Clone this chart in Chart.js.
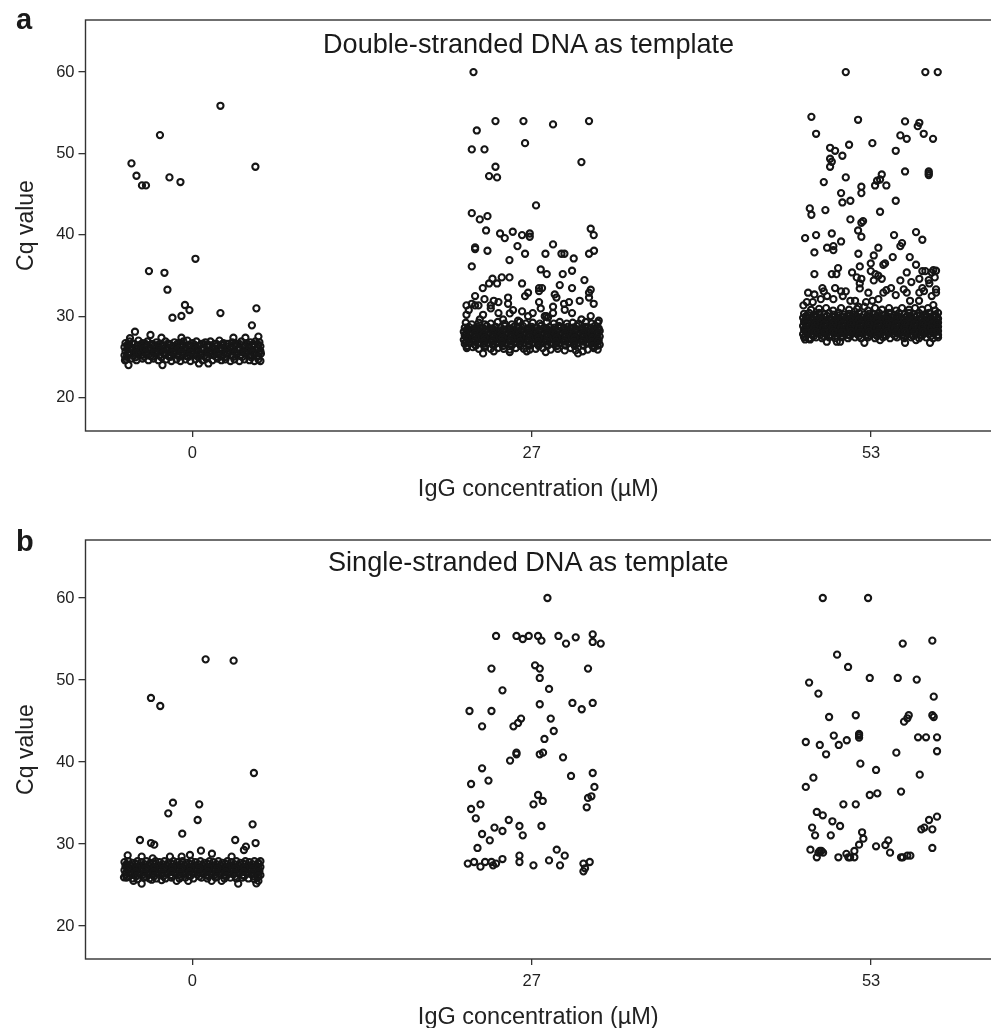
<!DOCTYPE html>
<html lang="en">
<head>
  <meta charset="UTF-8" />
  <title>Cq value by IgG concentration</title>
  <script src="https://cdn.jsdelivr.net/npm/chart.js"></script>
  <style>
    html, body { margin: 0; padding: 0; background: #fff; }
    body { position: relative; width: 991px; height: 1028px; overflow: hidden; font-family: "Liberation Sans", Arial, sans-serif; color: #1a1a1a; }
    .panel { position: absolute; left: 0; width: 991px; }
    .letter { position: absolute; left: 16px; font-size: 29px; font-weight: bold; line-height: 1; }
    .heading { position: absolute; font-size: 27.1px; line-height: 1; white-space: nowrap; }
  </style>
</head>
<body>
  <div class="panel" style="top:0;height:508px"><canvas id="chartA"></canvas></div>
  <div class="panel" style="top:510px;height:526px"><canvas id="chartB"></canvas></div>
  <div class="letter" style="top:5px">a</div>
  <div class="letter" style="top:527px">b</div>
  <div class="heading" style="left:323px;top:30px">Double-stranded DNA as template</div>
  <div class="heading" style="left:328px;top:548px">Single-stranded DNA as template</div>

  <script>
    const groupCentres = [0, 339.5, 679];
    const groupLabels = ['0', '27', '53'];
    const yTicks = [20, 30, 40, 50, 60];

    // [jitter, Cq], panel a
    const a0Points = [
      [28,55.86],[-32.5,52.26],[-61,48.78],[63,48.37],[-56,47.26],[-23,47.06],[-12,46.49],[-50.5,46.08],[-46.5,46.08],
      [3,37.06],[-43.5,35.55],[-28,35.34],[-25,33.26],[-7.5,31.38],[-3,30.76],[64,30.97],[28,30.39],[-11,30.03],[-20,29.82],
      [59.5,28.88],[-57.5,28.1],[-42,27.7],[-31,27.36],[41,27.36],[53,27.36],[66,27.5],[-62.5,27.3],[-11,27.36],
      [-64,24],[-30,24],[-67.5,24.6],[6.5,24.2],[16,24.2]
    ];
    const a0Band = [
      [-67,26.7],[-63,26.9],[-58,26.6],[-54,27],[-50,26.7],[-45,26.9],[-41,26.6],[-36,26.8],[-32,26.6],[-27,26.9],[-23,26.6],[-18,26.8],[-14,26.7],[-9,26.9],[-5,27],[0,26.7],[4,26.9],[9,26.6],[13,26.8],[18,26.9],[22,26.6],[27,27],[31,26.7],[36,26.6],[40,26.8],[45,26.6],[49,26.9],[54,26.7],[58,26.8],[63,26.9],[67,26.8],
      [-68,26.2],[-64,26.4],[-60,26.1],[-55,26.4],[-51,26.2],[-47,26.4],[-43,26.1],[-38,26.3],[-34,26.2],[-29,26.4],[-25,26.1],[-20,26.3],[-16,26.2],[-11,26.4],[-7,26.1],[-2,26.3],[2,26.2],[7,26.4],[11,26.1],[16,26.3],[20,26.2],[25,26.4],[29,26.1],[34,26.3],[38,26.2],[43,26.4],[47,26.1],[52,26.3],[56,26.2],[61,26.4],[65,26.1],[68,26.3],
      [-67,25.7],[-62,25.9],[-58,25.6],[-53,25.8],[-49,25.7],[-45,25.9],[-40,25.6],[-36,25.8],[-31,25.7],[-27,25.9],[-22,25.6],[-18,25.8],[-13,25.7],[-9,25.9],[-4,25.6],[0,25.8],[5,25.7],[9,25.9],[14,25.6],[18,25.8],[23,25.7],[27,25.9],[32,25.6],[36,25.8],[41,25.7],[45,25.9],[50,25.6],[54,25.8],[59,25.7],[63,25.9],[68,25.7],
      [-68,25.2],[-64,25.3],[-59,25.1],[-55,25.4],[-51,25.2],[-46,25.3],[-42,25.1],[-37,25.4],[-33,25.2],[-28,25.3],[-24,25.1],[-19,25.4],[-15,25.2],[-10,25.3],[-6,25.1],[-1,25.4],[3,25.2],[8,25.3],[12,25.1],[17,25.4],[21,25.2],[26,25.3],[30,25.1],[35,25.4],[39,25.2],[44,25.3],[48,25.1],[53,25.4],[57,25.2],[62,25.3],[66,25.1],[68.5,25.4],
      [-66,24.7],[-61,24.8],[-56,24.6],[-50,24.8],[-44,24.6],[-39,24.8],[-34,24.6],[-26,24.7],[-21,24.5],[-16,24.7],[-12,24.5],[-7,24.7],[-2,24.5],[3,24.7],[10,24.6],[14,24.8],[20,24.6],[25,24.8],[29,24.6],[33,24.7],[38,24.5],[42,24.7],[47,24.5],[52,24.7],[57,24.6],[62,24.5],[66,24.7],[68,24.5]
    ];
    const a0Fill = [
      [-65,26.5],[-60,26.6],[-52,26.5],[-47,26.6],[-39,26.5],[-34,26.5],[-25,26.6],[-16,26.5],[-11,26.6],[-3,26.5],[2,26.5],[11,26.6],[16,26.5],[24,26.6],[29,26.5],[34,26.6],[42,26.5],[47,26.6],[56,26.5],[61,26.6],[66,26.5],
      [-65,26],[-57,26],[-49,26],[-41,25.95],[-33,26.05],[-23,26],[-14,26],[-5,25.95],[4,26],[12,26.05],[21,26],[30,26],[39,26],[48,26.05],[57,26],[66,26],
      [-64,25.55],[-56,25.5],[-47,25.5],[-38,25.55],[-29,25.5],[-20,25.5],[-11,25.55],[-2,25.5],[7,25.5],[16,25.55],[25,25.5],[34,25.5],[43,25.55],[52,25.5],[61,25.5],[66,25.5],
      [-66,25],[-57,24.95],[-48,25],[-40,25.05],[-31,24.95],[-22,25],[-13,25.05],[-4,25],[6,24.95],[15,25],[24,25],[32,24.95],[41,25.05],[50,25],[59,24.95],[65,25]
    ];
    const a27Points = [
      [-58.3,60],[-36.3,53.98],[-8.3,53.98],[21.3,53.57],[57.3,53.98],[-55,52.83],[-6.7,51.27],[-60,50.5],[-47.3,50.5],[49.7,48.94],[-36.3,48.37],[-42.7,47.22],[-34.7,47.06],
      [4.3,43.62],[-60,42.67],[-52,41.9],[-44.3,42.3],[-45.7,40.54],[-31.7,40.17],[-19,40.38],[-27,39.6],[-9.7,39.97],[-2,40.17],[-2,39.77],[59,40.75],[62,39.97],
      [-14.3,38.62],[21.3,38.83],[-56.7,38.46],[-56.7,38.25],[-44.3,38.05],[-6.7,37.68],[13.7,37.68],[29.7,37.68],[32.7,37.68],[57.3,37.68],[62.3,38.05],[42,37.1],[-22.3,36.9],[-60,36.12],
      [9,35.75],[15,35.18],[31,35.18],[40.3,35.59],[-39.3,34.61],[-30,34.77],[-22.3,34.77],[-42.7,34.03],[-34.7,34.03],[-9.7,34.03],[52.7,34.44],[-49,33.46],[28,33.83],[40.3,33.46],
      [7.3,33.46],[10.3,33.46],[7.3,33.09],[-3.7,32.89],[-6.7,32.48],[59,33.26],[57.3,32.89],[57.3,32.3],[23,32.68],[24.7,32.3],[-56.7,32.48],[-47.3,32.1],[-38,31.9],[-33.3,31.74],[-23.7,32.3],[-23.7,31.53],
      [7.3,31.74],[37.3,31.74],[48,31.9],[62,31.53],[32.3,31.53],[-65.3,31.33],[-60,31.53],[-56.7,31.33],[-53.3,31.33],[-41,31.33],[-41,30.96],[21.3,31.17],[33,30.8],[9,30.96],[-63,30.76],
      [-65.3,30.18],[-33.3,30.39],[-18.7,30.76],[-22,30.35],[-9.7,30.6],[1,30.39],[21.3,30.39],[40.3,30.39],[-48.7,30.18],[59,30.02],[14.7,30],[13,30],[16.3,29.85],[-52,29.6],[-28.7,29.6],[-13.7,29.45],[-3.7,30],[49.7,29.6],[67,29.45],
      [-48.7,25.43],[46.3,25.43]
    ];
    const a27Band = [
      [-66,29.2],[-60,29],[-53,29.2],[-47,29],[-41,29.1],[-34,29.3],[-27,29.1],[-20,29],[-12,29.3],[-6,29.1],[1,29.2],[8,29.1],[15,29.3],[22,29.1],[28,29.3],[35,29.1],[41,29.2],[47,29.1],[54,29.3],[60,29.1],[66,29.2],
      [-67,28.6],[-63,28.7],[-58,28.5],[-54,28.7],[-49,28.6],[-45,28.8],[-40,28.5],[-36,28.7],[-31,28.6],[-27,28.8],[-22,28.5],[-18,28.7],[-13,28.6],[-9,28.8],[-4,28.5],[0,28.7],[5,28.6],[9,28.8],[14,28.5],[18,28.7],[23,28.6],[27,28.8],[32,28.5],[36,28.7],[41,28.6],[45,28.8],[50,28.5],[54,28.7],[59,28.6],[63,28.8],[67,28.5],
      [-68,28.1],[-64,28.2],[-60,28],[-55,28.2],[-51,28.1],[-46,28.2],[-42,28],[-37,28.2],[-33,28.1],[-28,28.2],[-24,28],[-19,28.2],[-15,28.1],[-10,28.2],[-6,28],[-1,28.2],[3,28.1],[8,28.2],[12,28],[17,28.2],[21,28.1],[26,28.2],[30,28],[35,28.2],[39,28.1],[44,28.2],[48,28],[53,28.2],[57,28.1],[62,28.2],[66,28],[68,28.2],
      [-67,27.6],[-62,27.7],[-58,27.5],[-53,27.7],[-49,27.6],[-44,27.7],[-40,27.5],[-35,27.7],[-31,27.6],[-26,27.7],[-22,27.5],[-17,27.7],[-13,27.6],[-8,27.7],[-4,27.5],[1,27.7],[5,27.6],[10,27.7],[14,27.5],[19,27.7],[23,27.6],[28,27.7],[32,27.5],[37,27.7],[41,27.6],[46,27.7],[50,27.5],[55,27.7],[59,27.6],[64,27.7],[68,27.5],
      [-68,27.1],[-63,27.2],[-59,27],[-54,27.2],[-50,27.1],[-45,27.2],[-41,27],[-36,27.2],[-32,27.1],[-27,27.2],[-23,27],[-18,27.2],[-14,27.1],[-9,27.2],[-5,27],[0,27.2],[4,27.1],[9,27.2],[13,27],[18,27.2],[22,27.1],[27,27.2],[31,27],[36,27.2],[40,27.1],[45,27.2],[49,27],[54,27.2],[58,27.1],[63,27.2],[67,27],
      [-67,26.6],[-62,26.7],[-57,26.5],[-53,26.7],[-48,26.6],[-44,26.7],[-39,26.5],[-35,26.7],[-30,26.6],[-26,26.7],[-21,26.5],[-17,26.7],[-12,26.6],[-8,26.7],[-3,26.5],[1,26.7],[6,26.6],[10,26.7],[15,26.5],[19,26.7],[24,26.6],[28,26.7],[33,26.5],[37,26.7],[42,26.6],[46,26.7],[51,26.5],[55,26.7],[60,26.6],[64,26.7],[68,26.5],
      [-65,26.1],[-59,26.2],[-53,26],[-47,26.2],[-41,26],[-34,26.1],[-28,26],[-22,25.9],[-16,26.1],[-8,26],[-2,25.9],[4,26],[11,26.1],[19,25.9],[26,26],[33,25.8],[39,26.1],[44,25.8],[51,25.7],[56,25.9],[62,26.1],[66,25.9],[-38,25.7],[-22,25.6],[-5,25.7],[14,25.6]
    ];
    const a27Fill = [
      [-65,28.35],[-56,28.4],[-47,28.35],[-38,28.4],[-29,28.35],[-20,28.4],[-11,28.35],[-2,28.4],[7,28.35],[16,28.4],[25,28.35],[34,28.4],[43,28.35],[52,28.4],[61,28.35],[66,28.4],
      [-66,27.85],[-57,27.9],[-48,27.85],[-39,27.9],[-30,27.85],[-21,27.9],[-12,27.85],[-3,27.9],[6,27.85],[15,27.9],[24,27.85],[33,27.9],[42,27.85],[51,27.9],[60,27.85],[66,27.9],
      [-65,27.35],[-56,27.4],[-47,27.35],[-38,27.4],[-29,27.35],[-20,27.4],[-11,27.35],[-2,27.4],[7,27.35],[16,27.4],[25,27.35],[34,27.4],[43,27.35],[52,27.4],[61,27.35],[66,27.4],
      [-66,26.85],[-57,26.9],[-48,26.85],[-39,26.9],[-30,26.85],[-21,26.9],[-12,26.85],[-3,26.9],[6,26.85],[15,26.9],[24,26.85],[33,26.9],[42,26.85],[51,26.9],[60,26.85],[66,26.9],
      [-65,26.35],[-56,26.4],[-47,26.35],[-38,26.4],[-29,26.35],[-20,26.4],[-11,26.35],[-2,26.4],[7,26.35],[16,26.4],[25,26.35],[34,26.4],[43,26.35],[52,26.4],[61,26.35],[66,26.4]
    ];
    const a53Points = [
      [-25.3,60],[54.3,60],[66.7,60],[-59.7,54.5],[-13,54.14],[34,53.94],[48.3,53.77],[46.7,53.36],[-55,52.42],[29.3,52.22],[35.7,51.8],[52.7,52.42],[62,51.8],[-22,51.07],[1.3,51.27],[-41,50.7],[-36,50.33],[24.7,50.33],[-28.7,49.72],
      [-41,49.35],[-39.3,48.98],[-41,48.37],[34,47.79],[57.7,47.79],[57.7,47.55],[57.7,47.34],[10.7,47.42],[-25.3,47.06],[6,46.65],[9,46.8],[-47.3,46.48],[4,46.07],[15.3,46.07],[-9.7,45.91],[-9.7,45.13],[-30,45.13],[-20.7,44.19],[-28.7,43.98],[24.7,44.19],
      [-61.3,43.25],[-59.7,42.47],[-45.7,43.04],[9,42.84],[-20.7,41.9],[-8,41.69],[-9.7,41.49],[-13,40.54],[-9.7,39.77],[-66,39.6],[-55,39.97],[-39.3,40.17],[23,39.97],[45,40.34],[51.3,39.4],[-30,39.19],[31,38.99],[29.3,38.62],[-44,38.42],[-37.7,38.62],[-37.7,38.13],[7.3,38.42],
      [-56.7,37.84],[-12.7,37.68],[2.7,37.47],[21.7,37.27],[38.7,37.27],[-0.3,36.49],[14,36.49],[12.3,36.33],[45,36.33],[-11.3,36.12],[-33,35.92],[-0.3,35.55],[51.3,35.55],[54.3,35.55],[62.3,35.67],[65,35.59],[60.7,35.38],
      [-56.7,35.18],[-39.3,35.18],[-34.7,35.18],[-19,35.38],[35.7,35.38],[4.3,35.18],[7.3,34.98],[10.7,34.6],[-9.7,34.6],[-14.3,34.77],[63.7,34.77],[48.3,34.6],[2.7,34.4],[29.3,34.4],[40.3,34.2],[-11.3,34.03],[-11.3,33.42],[57.7,34.44],[58.3,34.03],
      [-48.7,33.46],[-47.3,33.05],[-36,33.46],[20,33.46],[51.3,33.46],[53,33.09],[65,33.3],[65,32.9],[-63,32.89],[-56.7,32.68],[-30,33.05],[-25.3,33.05],[-28.3,32.48],[-2.7,32.89],[12.3,32.9],[15.3,33.2],[32.7,33.3],[35.7,32.9],[24.7,32.6],[48.3,32.9],[60.7,32.48],[-44,32.48],
      [-50.3,32.1],[-37.7,32.1],[-58.3,31.74],[-64.3,31.74],[-67.7,31.33],[-20.7,31.9],[-16,31.9],[-5,31.74],[7.3,32.1],[1.3,31.9],[39,31.9],[48,31.9],[62.3,31.37],[-12.7,31.17],[-6.7,31.17],
      [-44.3,26.87],[-34.3,26.87],[-31,26.87],[-6.7,26.74],[34,26.74],[59,26.74],[9,27.07],[45,27.07],[-66,27.15],[-61,27.15]
    ];
    const a53Band = [
      [-60,30.8],[-52,30.9],[-45,31],[-38,30.7],[-30,31],[-22,30.8],[-14,30.9],[-3,30.7],[4,31],[11,30.8],[18,31],[25,30.7],[31,31],[38,30.8],[44,31],[51,30.8],[57,31],[64,30.7],
      [-67,30.3],[-62,30.4],[-57,30.2],[-52,30.4],[-47,30.2],[-42,30.4],[-37,30.2],[-32,30.4],[-27,30.2],[-22,30.3],[-17,30.2],[-12,30.4],[-7,30.2],[-2,30.3],[3,30.2],[8,30.4],[13,30.2],[18,30.4],[23,30.2],[28,30.4],[33,30.2],[38,30.4],[43,30.2],[48,30.4],[53,30.2],[58,30.4],[63,30.2],[67,30.4],
      [-68,29.8],[-64,29.9],[-59,29.7],[-55,29.9],[-50,29.8],[-46,29.9],[-41,29.7],[-37,29.9],[-32,29.8],[-28,29.9],[-23,29.7],[-19,29.9],[-14,29.8],[-10,29.9],[-5,29.7],[-1,29.9],[4,29.8],[8,29.9],[13,29.7],[17,29.9],[22,29.8],[26,29.9],[31,29.7],[35,29.9],[40,29.8],[44,29.9],[49,29.7],[53,29.9],[58,29.8],[62,29.9],[67,29.7],
      [-67,29.3],[-62,29.4],[-58,29.2],[-53,29.4],[-49,29.3],[-44,29.4],[-40,29.2],[-35,29.4],[-31,29.3],[-26,29.4],[-22,29.2],[-17,29.4],[-13,29.3],[-8,29.4],[-4,29.2],[1,29.4],[5,29.3],[10,29.4],[14,29.2],[19,29.4],[23,29.3],[28,29.4],[32,29.2],[37,29.4],[41,29.3],[46,29.4],[50,29.2],[55,29.4],[59,29.3],[64,29.4],[67,29.2],
      [-68,28.8],[-64,28.9],[-59,28.7],[-55,28.9],[-50,28.8],[-46,28.9],[-41,28.7],[-37,28.9],[-32,28.8],[-28,28.9],[-23,28.7],[-19,28.9],[-14,28.8],[-10,28.9],[-5,28.7],[-1,28.9],[4,28.8],[8,28.9],[13,28.7],[17,28.9],[22,28.8],[26,28.9],[31,28.7],[35,28.9],[40,28.8],[44,28.9],[49,28.7],[53,28.9],[58,28.8],[62,28.9],[67,28.7],
      [-67,28.3],[-62,28.4],[-58,28.2],[-53,28.4],[-49,28.3],[-44,28.4],[-40,28.2],[-35,28.4],[-31,28.3],[-26,28.4],[-22,28.2],[-17,28.4],[-13,28.3],[-8,28.4],[-4,28.2],[1,28.4],[5,28.3],[10,28.4],[14,28.2],[19,28.4],[23,28.3],[28,28.4],[32,28.2],[37,28.4],[41,28.3],[46,28.4],[50,28.2],[55,28.4],[59,28.3],[64,28.4],[67,28.2],
      [-68,27.8],[-64,27.9],[-59,27.7],[-55,27.9],[-50,27.8],[-46,27.9],[-41,27.7],[-37,27.9],[-32,27.8],[-28,27.9],[-23,27.7],[-19,27.9],[-14,27.8],[-10,27.9],[-5,27.7],[-1,27.9],[4,27.8],[8,27.9],[13,27.7],[17,27.9],[22,27.8],[26,27.9],[31,27.7],[35,27.9],[40,27.8],[44,27.9],[49,27.7],[53,27.9],[58,27.8],[62,27.9],[67,27.7],
      [-67,27.4],[-62,27.3],[-55,27.4],[-49,27.3],[-42,27.4],[-36,27.3],[-29,27.4],[-23,27.3],[-16,27.4],[-10,27.3],[-3,27.4],[4,27.3],[12,27.4],[19,27.3],[26,27.4],[33,27.3],[40,27.4],[48,27.3],[55,27.4],[62,27.3],[67,27.4]
    ];
    const a53Fill = [
      [-65,30.05],[-55,30.1],[-44,30.05],[-33,30.1],[-24,30.05],[-15,30.1],[-4,30.05],[6,30.1],[16,30.05],[26,30.1],[36,30.05],[46,30.1],[56,30.05],[65,30.1],
      [-66,29.55],[-57,29.6],[-48,29.55],[-39,29.6],[-30,29.55],[-21,29.6],[-12,29.55],[-3,29.6],[6,29.55],[15,29.6],[24,29.55],[33,29.6],[42,29.55],[51,29.6],[60,29.55],[66,29.6],
      [-65,29.05],[-56,29.1],[-47,29.05],[-38,29.1],[-29,29.05],[-20,29.1],[-11,29.05],[-2,29.1],[7,29.05],[16,29.1],[25,29.05],[34,29.1],[43,29.05],[52,29.1],[61,29.05],[66,29.1],
      [-66,28.55],[-57,28.6],[-48,28.55],[-39,28.6],[-30,28.55],[-21,28.6],[-12,28.55],[-3,28.6],[6,28.55],[15,28.6],[24,28.55],[33,28.6],[42,28.55],[51,28.6],[60,28.55],[66,28.6],
      [-65,28.05],[-56,28.1],[-47,28.05],[-38,28.1],[-29,28.05],[-20,28.1],[-11,28.05],[-2,28.1],[7,28.05],[16,28.1],[25,28.05],[34,28.1],[43,28.05],[52,28.1],[61,28.05],[66,28.1],
      [-66,27.55],[-57,27.6],[-48,27.55],[-39,27.6],[-30,27.55],[-21,27.6],[-12,27.55],[-3,27.6],[6,27.55],[15,27.6],[24,27.55],[33,27.6],[42,27.55],[51,27.6],[60,27.55],[66,27.6]
    ];

    // panel b
    const b0Points = [
      [13.2,52.52],[41.2,52.36],[-41.5,47.81],[-32.2,46.83],[61.5,38.66],[-19.5,35.04],[6.8,34.84],[-24.2,33.74],[5.2,32.93],[60.2,32.4],[-10.2,31.26],[-52.5,30.49],[42.8,30.49],[-41.5,30.12],[-38.2,29.92],[63.2,30.12],[53.5,29.68],[51.5,29.27],[8.5,29.19],[19.5,28.82],
      [-64.8,28.62],[-50.8,28.46],[-22.5,28.46],[-2.5,28.66],[39.2,28.46],[-10.8,28.46],[-39.8,28.25],[-50.8,25.17],[45.8,25.17],[64,25.2],[-68.5,25.94],[-59,25.5],[-30.8,25.6],[-15.8,25.5],[-4.2,25.5],[19.2,25.5],[29.2,25.5],[-40.8,25.65]
    ];
    const b0Band = [
      [-68,27.8],[-64,27.9],[-60,27.7],[-55,27.9],[-51,27.8],[-46,27.9],[-42,27.7],[-37,27.9],[-33,27.8],[-28,27.9],[-24,27.7],[-19,27.9],[-15,27.8],[-10,27.9],[-6,27.7],[-1,27.9],[3,27.8],[8,27.9],[12,27.7],[17,27.9],[21,27.8],[26,27.9],[30,27.7],[35,27.9],[39,27.8],[44,27.9],[48,27.7],[53,27.9],[57,27.8],[62,27.9],[66,27.7],[68,27.9],
      [-67,27.3],[-62,27.4],[-58,27.2],[-53,27.4],[-49,27.3],[-44,27.4],[-40,27.2],[-35,27.4],[-31,27.3],[-26,27.4],[-22,27.2],[-17,27.4],[-13,27.3],[-8,27.4],[-4,27.2],[1,27.4],[5,27.3],[10,27.4],[14,27.2],[19,27.4],[23,27.3],[28,27.4],[32,27.2],[37,27.4],[41,27.3],[46,27.4],[50,27.2],[55,27.4],[59,27.3],[64,27.4],[68,27.2],
      [-68,26.8],[-64,26.9],[-59,26.7],[-55,26.9],[-50,26.8],[-46,26.9],[-41,26.7],[-37,26.9],[-32,26.8],[-28,26.9],[-23,26.7],[-19,26.9],[-14,26.8],[-10,26.9],[-5,26.7],[-1,26.9],[4,26.8],[8,26.9],[13,26.7],[17,26.9],[22,26.8],[26,26.9],[31,26.7],[35,26.9],[40,26.8],[44,26.9],[49,26.7],[53,26.9],[58,26.8],[62,26.9],[67,26.7],
      [-67,26.3],[-62,26.4],[-58,26.2],[-53,26.4],[-49,26.3],[-44,26.4],[-40,26.2],[-35,26.4],[-31,26.3],[-26,26.4],[-22,26.2],[-17,26.4],[-13,26.3],[-8,26.4],[-4,26.2],[1,26.4],[5,26.3],[10,26.4],[14,26.2],[19,26.4],[23,26.3],[28,26.4],[32,26.2],[37,26.4],[41,26.3],[46,26.4],[50,26.2],[55,26.4],[59,26.3],[64,26.4],[68,26.2],
      [-66,25.9],[-60,25.8],[-55,25.7],[-48,25.9],[-43,25.8],[-36,25.8],[-27,25.8],[-21,25.9],[-13,25.8],[-7,25.9],[1,25.8],[9,25.9],[15,25.8],[23,25.9],[32,25.8],[38,25.9],[44,25.8],[50,25.9],[56,25.8],[62,25.7],[66,25.5],[65,25.9]
    ];
    const b0Fill = [
      [-66,27.55],[-57,27.6],[-48,27.55],[-39,27.6],[-30,27.55],[-21,27.6],[-12,27.55],[-3,27.6],[6,27.55],[15,27.6],[24,27.55],[33,27.6],[42,27.55],[51,27.6],[60,27.55],[66,27.6],
      [-65,27.05],[-56,27.1],[-47,27.05],[-38,27.1],[-29,27.05],[-20,27.1],[-11,27.05],[-2,27.1],[7,27.05],[16,27.1],[25,27.05],[34,27.1],[43,27.05],[52,27.1],[61,27.05],[66,27.1],
      [-66,26.55],[-57,26.6],[-48,26.55],[-39,26.6],[-30,26.55],[-21,26.6],[-12,26.55],[-3,26.6],[6,26.55],[15,26.6],[24,26.55],[33,26.6],[42,26.55],[51,26.6],[60,26.55],[66,26.6],
      [-65,26.05],[-56,26.1],[-47,26.05],[-38,26.1],[-29,26.05],[-20,26.1],[-11,26.05],[-2,26.1],[7,26.05],[16,26.1],[25,26.05],[34,26.1],[43,26.05],[52,26.1],[61,26.05],[66,26.1]
    ];
    const b27Points = [
      [15.7,60],[-35.7,55.37],[-15.3,55.37],[-9,55],[-3,55.37],[6.3,55.37],[9.7,54.8],[26.7,55.37],[34.3,54.44],[44,55.2],[61,55.57],[61,54.64],[69,54.44],[-40.3,51.39],[3.3,51.79],[8,51.39],[56.3,51.39],[8,50.25],[-29.3,48.74],[17.3,48.91],
      [8,47.04],[40.7,47.2],[61,47.2],[50,46.43],[-62.3,46.22],[-40.3,46.22],[-10.7,45.29],[-13.7,44.76],[-18.3,44.35],[19,45.29],[-49.7,44.35],[22,43.78],[12.7,42.81],[-15.3,41.14],[-15.3,40.94],[8,40.94],[11.3,41.14],[-21.7,40.17],[31.3,40.57],
      [-49.7,39.23],[39.3,38.3],[61,38.66],[-43.3,37.73],[-60.7,37.32],[62.7,36.96],[6.3,35.98],[59.7,35.82],[56.3,35.62],[11,35.25],[1.7,34.84],[55,34.48],[-51.3,34.84],[-60.7,34.27],[-56,33.13],[-23,32.93],[-12.3,32.2],[9.7,32.2],[-37.3,32],[-29.3,31.59],[-49.7,31.22],[-9,31.06],[-42,30.45],
      [-54.3,29.52],[25,29.31],[33,28.58],[-12.3,28.58],[-12.3,27.81],[-29.3,28.17],[-64,27.61],[-57.7,27.81],[-51.3,27.24],[-46.7,27.81],[-40.3,27.81],[-38.7,27.4],[-35.7,27.61],[1.7,27.4],[17.3,28],[28.3,27.4],[51.7,27.61],[58,27.81],[53.3,27.04],[51.7,26.67]
    ];
    const b53Points = [
      [-48.3,60],[-3,60],[61.3,54.8],[31.7,54.44],[-34,53.09],[-23,51.59],[-1.3,50.25],[26.7,50.25],[45.7,50.05],[-62,49.68],[-52.7,48.34],[62.7,47.97],[-42,45.49],[-15.3,45.7],[37.7,45.7],[36.3,45.33],[33,44.92],[61.3,45.7],[62.7,45.49],
      [-12,43.42],[-12,43.22],[-12,42.97],[-37.3,43.22],[47,43.01],[55,43.01],[66,43.01],[-65.3,42.44],[-24.3,42.65],[-51.3,42.08],[-32.3,42.08],[-45,40.94],[25.3,41.14],[66,41.31],[-10.7,39.8],[5,39.03],[48.7,38.46],[-57.7,38.09],[-65.3,36.96],[30,36.39],[-1.3,35.98],[6.3,36.18],
      [-27.7,34.84],[-15.3,34.84],[-54.3,33.91],[-48.3,33.5],[66,33.34],[58,32.93],[-38.7,32.77],[-31,32.2],[-59,32],[50.3,31.79],[53.3,32],[61.3,31.79],[-9,31.43],[-56,31.06],[-40.3,31.06],[-7.7,30.65],[-12,29.92],[-16.7,29.15],[17.3,30.45],[14.3,29.88],[5,29.72],[61.3,29.52],
      [-60.7,29.31],[-51.3,29.15],[-49.7,29.15],[-48,28.95],[-52.7,28.95],[19,28.95],[-54.3,28.38],[-32.7,28.38],[-24.7,28.8],[-22.7,28.38],[-21,28.38],[-16.7,28.38],[30,28.38],[31.7,28.38],[36.3,28.58],[39.3,28.58]
    ];

    function toPoints(centre, list) {
      return list.map(p => ({ x: centre + p[0], y: p[1] }));
    }

    // box around the plot, its right side runs off the page
    const framePlugin = {
      id: 'frame',
      afterDatasetsDraw(chart) {
        const { ctx, chartArea: a } = chart;
        ctx.save();
        ctx.strokeStyle = '#333';
        ctx.lineWidth = 1.4;
        ctx.strokeRect(a.left, a.top, a.right - a.left + 20, a.bottom - a.top);
        ctx.restore();
      }
    };

    function makeChart(id, points, yMin, yMax, plotTop, xAxisHeight) {
      new Chart(document.getElementById(id), {
        type: 'scatter',
        plugins: [framePlugin],
        data: {
          datasets: [{
            data: points,
            pointStyle: 'circle',
            pointRadius: 3.1,
            pointBorderWidth: 2.1,
            pointBorderColor: '#161616',
            pointBackgroundColor: 'rgba(0,0,0,0)'
          }]
        },
        options: {
          responsive: true,
          maintainAspectRatio: false,
          animation: false,
          layout: { autoPadding: false, padding: { top: plotTop } },
          plugins: { legend: { display: false }, tooltip: { enabled: false } },
          scales: {
            x: {
              type: 'linear',
              min: -107,
              max: 799,
              afterBuildTicks: scale => { scale.ticks = groupCentres.map(v => ({ value: v })); },
              afterFit: scale => { scale.height = xAxisHeight; },
              ticks: {
                autoSkip: false,
                maxRotation: 0,
                padding: 7,
                color: '#222',
                font: { family: '"Liberation Sans"', size: 16.5 },
                callback: v => groupLabels[groupCentres.indexOf(v)]
              },
              grid: { drawOnChartArea: false, tickLength: 6, color: '#333', lineWidth: 1.3 },
              border: { display: false },
              title: {
                display: true,
                text: 'IgG concentration (µM)',
                color: '#222',
                font: { family: '"Liberation Sans"', size: 23.5 },
                padding: { top: 0, bottom: 4 }
              }
            },
            y: {
              min: yMin,
              max: yMax,
              afterBuildTicks: scale => { scale.ticks = yTicks.map(v => ({ value: v })); },
              afterFit: scale => { scale.width = 85.5; },
              ticks: {
                padding: 4,
                color: '#222',
                font: { family: '"Liberation Sans"', size: 16.5 }
              },
              grid: { drawOnChartArea: false, tickLength: 7, color: '#333', lineWidth: 1.3 },
              border: { display: false },
              title: {
                display: true,
                text: 'Cq value',
                color: '#222',
                font: { family: '"Liberation Sans"', size: 23 },
                padding: { top: 13, bottom: 0 }
              }
            }
          }
        }
      });
    }

    const pointsA = [].concat(
      toPoints(groupCentres[0], a0Points), toPoints(groupCentres[0], a0Band), toPoints(groupCentres[0], a0Fill),
      toPoints(groupCentres[1], a27Points), toPoints(groupCentres[1], a27Band), toPoints(groupCentres[1], a27Fill),
      toPoints(groupCentres[2], a53Points), toPoints(groupCentres[2], a53Band), toPoints(groupCentres[2], a53Fill)
    );
    const pointsB = [].concat(
      toPoints(groupCentres[0], b0Points), toPoints(groupCentres[0], b0Band), toPoints(groupCentres[0], b0Fill),
      toPoints(groupCentres[1], b27Points),
      toPoints(groupCentres[2], b53Points)
    );

    makeChart('chartA', pointsA, 15.9, 66.4, 20, 77);
    makeChart('chartB', pointsB, 15.98, 67.07, 30, 77);
  </script>
</body>
</html>
